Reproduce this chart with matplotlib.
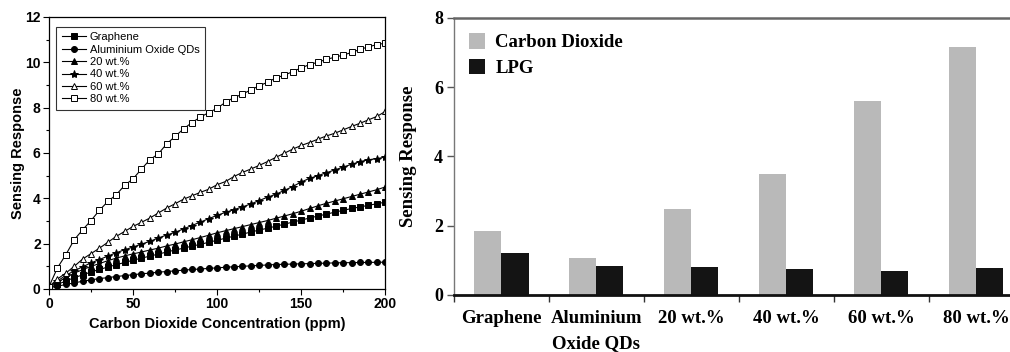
import numpy as np
import matplotlib
matplotlib.use('Agg')
import matplotlib.pyplot as plt
from matplotlib.patches import Patch

#%% data - left panel (CO2 concentration sweep)
conc = [0, 5, 10, 15, 20, 25, 30, 35, 40, 45, 50, 55, 60, 65, 70, 75, 80, 85, 90, 95,
        100, 105, 110, 115, 120, 125, 130, 135, 140, 145, 150, 155, 160, 165, 170, 175,
        180, 185, 190, 195, 200]

graphene = [0.05, 0.20, 0.35, 0.50, 0.62, 0.75, 0.86, 0.97, 1.07, 1.17, 1.27, 1.36, 1.45,
            1.54, 1.63, 1.72, 1.80, 1.89, 1.97, 2.06, 2.15, 2.24, 2.33, 2.42, 2.51, 2.60,
            2.68, 2.77, 2.86, 2.95, 3.04, 3.13, 3.22, 3.30, 3.39, 3.47, 3.55, 3.62, 3.69,
            3.76, 3.83]
alox = [0.05, 0.12, 0.20, 0.27, 0.34, 0.40, 0.46, 0.50, 0.55, 0.59, 0.63, 0.67, 0.70, 0.74,
        0.77, 0.80, 0.83, 0.86, 0.88, 0.91, 0.93, 0.96, 0.98, 1.00, 1.02, 1.04, 1.06, 1.08,
        1.09, 1.10, 1.11, 1.12, 1.13, 1.14, 1.15, 1.16, 1.16, 1.17, 1.17, 1.18, 1.18]
wt20 = [0.05, 0.30, 0.50, 0.70, 0.85, 1.00, 1.12, 1.25, 1.36, 1.46, 1.55, 1.63, 1.72, 1.80,
        1.90, 1.98, 2.08, 2.17, 2.27, 2.37, 2.48, 2.57, 2.66, 2.75, 2.84, 2.93, 3.02, 3.12,
        3.22, 3.32, 3.43, 3.55, 3.67, 3.78, 3.88, 3.98, 4.08, 4.18, 4.28, 4.38, 4.50]
wt40 = [0.10, 0.35, 0.60, 0.80, 0.98, 1.15, 1.30, 1.45, 1.60, 1.73, 1.85, 1.98, 2.10, 2.25,
        2.38, 2.50, 2.65, 2.80, 2.95, 3.10, 3.25, 3.38, 3.50, 3.62, 3.75, 3.90, 4.05, 4.18,
        4.35, 4.52, 4.72, 4.88, 5.00, 5.13, 5.25, 5.38, 5.50, 5.62, 5.70, 5.75, 5.82]
wt60 = [0.10, 0.44, 0.70, 1.00, 1.32, 1.56, 1.80, 2.06, 2.32, 2.54, 2.76, 2.94, 3.13, 3.35,
        3.57, 3.76, 3.96, 4.11, 4.26, 4.40, 4.60, 4.74, 4.96, 5.14, 5.29, 5.45, 5.62, 5.81,
        5.99, 6.17, 6.33, 6.46, 6.61, 6.75, 6.87, 7.02, 7.17, 7.31, 7.46, 7.61, 7.83]
wt80 = [0.10, 0.93, 1.51, 2.17, 2.61, 3.02, 3.47, 3.86, 4.16, 4.57, 4.86, 5.29, 5.70, 5.96,
        6.40, 6.73, 7.06, 7.34, 7.58, 7.78, 7.97, 8.24, 8.44, 8.59, 8.78, 8.96, 9.12, 9.31,
        9.43, 9.59, 9.75, 9.90, 10.00, 10.13, 10.22, 10.32, 10.43, 10.57, 10.68, 10.78, 10.84]

#%% data - right panel (bar chart)
samples = ['Graphene', 'Aluminium\nOxide QDs', '20 wt.%', '40 wt.%', '60 wt.%', '80 wt.%']
co2_resp = [1.86, 1.07, 2.48, 3.49, 5.61, 7.17]
lpg_resp = [1.22, 0.84, 0.82, 0.74, 0.70, 0.78]

#%%
fig = plt.figure(figsize=(10.10, 3.52), dpi=100)

sans = 'Liberation Sans'
serif = 'Liberation Serif'

ax1 = fig.add_axes([0.0485, 0.179, 0.333, 0.773])

series = [(graphene, 's', 'k', 'Graphene'),
          (alox, 'o', 'k', 'Aluminium Oxide QDs'),
          (wt20, '^', 'k', '20 wt.%'),
          (wt40, '*', 'k', '40 wt.%'),
          (wt60, '^', 'w', '60 wt.%'),
          (wt80, 's', 'w', '80 wt.%')]

for yy, mk, fc, lab in series:
    ms = 6 if mk == '*' else 4.3
    ax1.plot(conc, yy, color='k', lw=0.8, marker=mk, ms=ms, mfc=fc, mec='k', mew=0.7,
             label=lab)

ax1.set_xlim(0, 200)
ax1.set_ylim(0, 12)
ax1.set_xticks([0, 50, 100, 150, 200])
ax1.set_xticks([25, 75, 125, 175], minor=True)
ax1.set_yticks([0, 2, 4, 6, 8, 10, 12])
ax1.set_yticks([1, 3, 5, 7, 9, 11], minor=True)
ax1.tick_params(which='major', direction='out', length=4, width=0.8, pad=2)
ax1.tick_params(which='minor', direction='out', length=2.5, width=0.8)
for lbl in ax1.get_xticklabels() + ax1.get_yticklabels():
    lbl.set_fontfamily(sans)
    lbl.set_fontweight('bold')
    lbl.set_fontsize(10)
ax1.set_xlabel('Carbon Dioxide Concentration (ppm)', family=sans, weight='bold',
               fontsize=10.5, labelpad=4)
ax1.set_ylabel('Sensing Response', family=sans, weight='bold', fontsize=10.5, labelpad=0)
for sp in ax1.spines.values():
    sp.set_linewidth(0.9)

leg = ax1.legend(loc='upper left', bbox_to_anchor=(0.005, 0.985), frameon=True,
                 fancybox=False, edgecolor='k', prop={'family': sans, 'size': 8},
                 handlelength=2.2, labelspacing=0.22, borderpad=0.5, handletextpad=0.3)
leg.get_frame().set_linewidth(0.8)

#%% right panel
ax2 = fig.add_axes([0.4495, 0.162, 0.564, 0.787])

x = np.arange(len(samples))
w = 0.285
ax2.bar(x - w / 2, co2_resp, width=w, color='#b9b9b9', edgecolor='none', label='Carbon Dioxide')
ax2.bar(x + w / 2, lpg_resp, width=w, color='#141414', edgecolor='none', label='LPG')

ax2.set_xlim(-0.5, 5.5)
ax2.set_ylim(0, 8)
ax2.set_yticks([0, 2, 4, 6, 8])
ax2.set_xticks(np.arange(-0.5, 6, 1.0))
ax2.set_xticklabels([])
ax2.set_xticks(x, minor=True)
ax2.set_xticklabels(samples, minor=True, family=serif, weight='bold', fontsize=13.5,
                    linespacing=1.6, va='top')
ax2.tick_params(axis='x', which='minor', length=0, pad=11)
ax2.tick_params(axis='x', which='major', direction='out', length=5, width=1, color='#333333')
ax2.tick_params(axis='y', direction='out', length=5, width=1, color='#555555', pad=3)
for lbl in ax2.get_yticklabels():
    lbl.set_fontfamily(serif)
    lbl.set_fontweight('bold')
    lbl.set_fontsize(13)
ax2.set_ylabel('Sensing Response', family=serif, weight='bold', fontsize=13.5, labelpad=12)

ax2.spines['left'].set_color('#777777')
ax2.spines['left'].set_linewidth(1.0)
ax2.spines['top'].set_color('#666666')
ax2.spines['top'].set_linewidth(1.8)
ax2.spines['bottom'].set_color('#111111')
ax2.spines['bottom'].set_linewidth(2.0)
ax2.spines['right'].set_visible(False)

handles = [Patch(facecolor='#b9b9b9', edgecolor='none'), Patch(facecolor='#141414', edgecolor='none')]
ax2.legend(handles, ['Carbon Dioxide', 'LPG'], loc='upper left', bbox_to_anchor=(0.0, 1.0),
           frameon=False, prop={'family': serif, 'weight': 'bold', 'size': 13.5},
           handlelength=0.85, handleheight=0.9, handletextpad=0.55, labelspacing=0.4,
           borderpad=0.3)

plt.savefig('out.png', dpi=100)
